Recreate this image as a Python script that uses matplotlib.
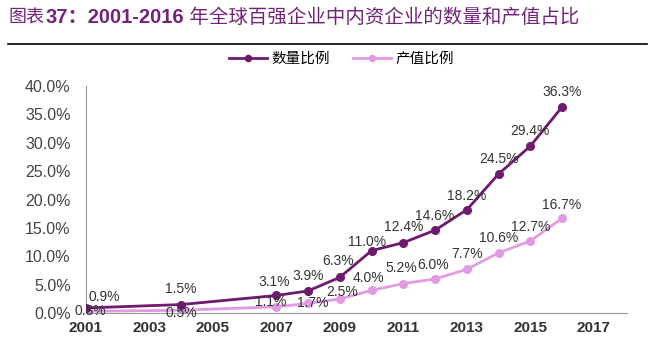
import matplotlib.pyplot as plt
from matplotlib.lines import Line2D

plt.rcParams['font.family'] = ['Liberation Sans', 'Noto Sans CJK SC', 'DejaVu Sans']

# share of domestic firms among the global top-100, by count and by output value
years = [2001, 2004, 2007, 2008, 2009, 2010, 2011, 2012, 2013, 2014, 2015, 2016]
count_pct = [0.9, 1.5, 3.1, 3.9, 6.3, 11.0, 12.4, 14.6, 18.2, 24.5, 29.4, 36.3]
value_pct = [0.3, 0.5, 1.1, 1.7, 2.5, 4.0, 5.2, 6.0, 7.7, 10.6, 12.7, 16.7]
series_names = ['数量比例', '产值比例']
x_ticks = [2001, 2003, 2005, 2007, 2009, 2011, 2013, 2015, 2017]
y_ticks = [0, 5, 10, 15, 20, 25, 30, 35, 40]

dark = '#6e1a6e'
light = '#e29ae2'
title_color = '#72247a'

fig = plt.figure(figsize=(6.56, 3.37), dpi=100)

# title drawn piece by piece: CJK in regular weight, numbers in bold
pieces = [('图表', 'normal', 13), ('37：2001-2016', 'bold', 14.5),
          (' 年全球百强企业中内资企业的数量和产值占比', 'normal', 14)]
renderer = fig.canvas.get_renderer()
x0 = 9 / 656
for txt, weight, size in pieces:
    t = fig.text(x0, 0.947, txt, fontsize=size, fontweight=weight, color=title_color,
                 va='center')
    x0 += t.get_window_extent(renderer).width / 656
fig.add_artist(Line2D([0.012, 0.986], [0.87, 0.87], color='black', lw=1.2))

ax = fig.add_axes([0.131, 0.071, 0.825, 0.674])
ax.plot(years, count_pct, color=dark, lw=2, marker='o', ms=5.5, label=series_names[0], zorder=3)
ax.plot(years, value_pct, color=light, lw=2, marker='o', ms=5.5, label=series_names[1], zorder=2)

# data labels, centre offsets from the point in points
count_off = {2001: (13.5, 8), 2007: (-1.5, 10), 2008: (0, 11), 2009: (-1.5, 11.5),
             2010: (-3.5, 6), 2012: (0, 10), 2013: (0, 10)}
value_off = {2001: (3.5, 0), 2004: (0, -2), 2007: (-4, 3.5), 2008: (3.5, 0.5), 2009: (1.5, 5),
             2010: (-2, 9), 2011: (-1.5, 11.5), 2012: (-1.5, 10), 2015: (0, 10), 2016: (0, 9.5)}
for x, y in zip(years, count_pct):
    dx, dy = count_off.get(x, (0, 11))
    ax.annotate(f'{y:.1f}%', (x, y), xytext=(dx, dy), textcoords='offset points',
                ha='center', va='center', fontsize=10, color='#333333')
for x, y in zip(years, value_pct):
    dx, dy = value_off.get(x, (0, 11))
    ax.annotate(f'{y:.1f}%', (x, y), xytext=(dx, dy), textcoords='offset points',
                ha='center', va='center', fontsize=10, color='#333333')

ax.set_xlim(2001, 2018.05)
ax.set_ylim(0, 40)
ax.set_xticks(x_ticks)
ax.set_yticks(y_ticks)
ax.set_yticklabels([f'{v:.1f}%' for v in y_ticks])
ax.tick_params(axis='both', length=0, colors='#333333')
ax.tick_params(axis='y', labelsize=11.5, pad=11, colors='#444444')
ax.tick_params(axis='x', labelsize=11, pad=6)
for lbl in ax.get_xticklabels():
    lbl.set_fontweight('bold')
for side in ['top', 'right']:
    ax.spines[side].set_visible(False)
for side in ['left', 'bottom']:
    ax.spines[side].set_color('#999999')

fig.legend(loc='center', bbox_to_anchor=(0.52, 0.825), ncol=2, frameon=False,
           fontsize=10.5, handlelength=2.6, handletextpad=0.3, columnspacing=1.6,
           markerscale=0.8)

fig.savefig('out.png', dpi=100)
